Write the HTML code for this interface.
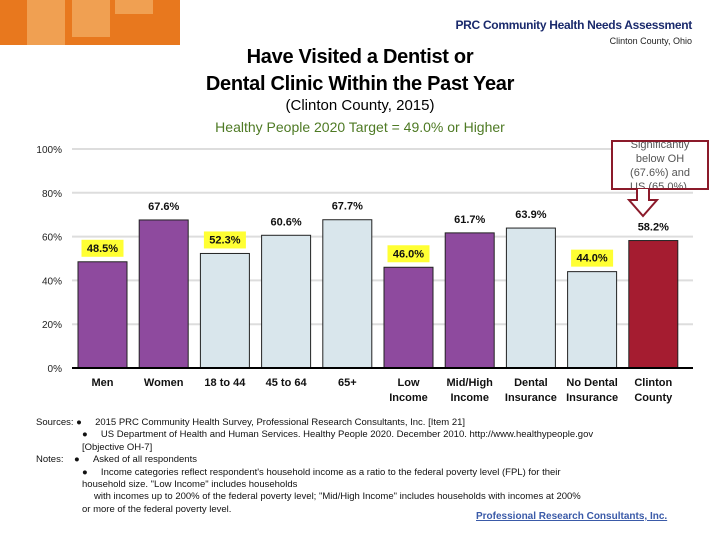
<!DOCTYPE html>
<html><head><meta charset="utf-8"><style>
body{margin:0;width:720px;height:540px;overflow:hidden;background:#fff;font-family:"Liberation Sans",sans-serif;position:relative}
.a{position:absolute}
</style></head><body>
<div class="a" style="left:0;top:0;width:180px;height:45px;background:#e8781e">
 <div class="a" style="left:27px;top:0;width:38px;height:45px;background:#f0a052"></div>
 <div class="a" style="left:72px;top:0;width:38px;height:37px;background:#f0a052"></div>
 <div class="a" style="left:115px;top:0;width:38px;height:14px;background:#f0a052"></div>
</div>
<div class="a" style="right:28px;top:18px;font-size:12px;font-weight:bold;color:#1a2a6c;letter-spacing:-0.3px">PRC Community Health Needs Assessment</div>
<div class="a" style="right:28px;top:36px;font-size:9px;color:#222">Clinton County, Ohio</div>
<div class="a" style="left:160px;width:400px;top:44px;text-align:center;font-size:20px;font-weight:bold;line-height:27px;color:#000;letter-spacing:-0.3px">Have Visited a Dentist or<br>Dental Clinic Within the Past Year</div>
<div class="a" style="left:160px;width:400px;top:97px;text-align:center;font-size:15px;color:#000">(Clinton County, 2015)</div>
<div class="a" style="left:160px;width:400px;top:119px;text-align:center;font-size:14px;color:#4e7a24">Healthy People 2020 Target = 49.0% or Higher</div>
<svg class="a" style="left:0;top:0" width="720" height="540" id="chart"></svg>
<div class="a" style="left:611px;top:140px;width:94px;height:46px;border:2px solid #8b1a2a;background:#fff;font-size:11px;line-height:14px;color:#555;text-align:center;overflow:hidden"><div style="margin-top:-4px">Significantly<br>below OH<br>(67.6%) and<br>US (65.0%).</div></div>
<svg class="a" style="left:625px;top:188px" width="40" height="60"><polygon points="12,0 24,0 24,12 32,12 18,28 4,12 12,12" fill="#fff" stroke="#8b1a2a" stroke-width="2"/></svg>
<div class="a" style="left:36px;top:417px;font-size:9.5px;line-height:12.4px;color:#111;width:660px">
<div>Sources: &#9679;&nbsp;&nbsp;&nbsp;&nbsp;&nbsp;2015 PRC Community Health Survey, Professional Research Consultants, Inc. [Item 21]</div>
<div style="padding-left:46px">&#9679;&nbsp;&nbsp;&nbsp;&nbsp;&nbsp;US Department of Health and Human Services. Healthy People 2020. December 2010. http://www.healthypeople.gov</div>
<div style="padding-left:46px">[Objective OH-7]</div>
<div>Notes: &nbsp;&nbsp;&nbsp;&#9679;&nbsp;&nbsp;&nbsp;&nbsp;&nbsp;Asked of all respondents</div>
<div style="padding-left:46px">&#9679;&nbsp;&nbsp;&nbsp;&nbsp;&nbsp;Income categories reflect respondent's household income as a ratio to the federal poverty level (FPL) for their</div>
<div style="padding-left:46px">household size. "Low Income" includes households</div>
<div style="padding-left:58px">with incomes up to 200% of the federal poverty level; "Mid/High Income" includes households with incomes at 200%</div>
<div style="padding-left:46px">or more of the federal poverty level.</div>
</div>
<div class="a" style="left:476px;top:511px;font-size:10px;font-weight:bold;color:#3a5aa8;text-decoration:underline">Professional Research Consultants, Inc.</div>
<script>
const categories=["Men","Women","18 to 44","45 to 64","65+","Low|Income","Mid/High|Income","Dental|Insurance","No Dental|Insurance","Clinton|County"];
const values=[48.5,67.6,52.3,60.6,67.7,46.0,61.7,63.9,44.0,58.2];
const highlight=[1,0,1,0,0,1,0,0,1,0];
const colors=["#8e4a9e","#8e4a9e","#d9e6ec","#d9e6ec","#d9e6ec","#8e4a9e","#8e4a9e","#d9e6ec","#d9e6ec","#a51c30"];
const ticks=[0,20,40,60,80,100];
const NS="http://www.w3.org/2000/svg",svg=document.getElementById('chart');
const y0=368,yTop=149,x0=72,x1=693,step=61.2,bw=49,bx=78;
const y=v=>y0-(v/100)*(y0-yTop);
function mk(t,a,p){const e=document.createElementNS(NS,t);for(const k in a)e.setAttribute(k,a[k]);(p||svg).appendChild(e);return e;}
ticks.forEach(t=>{
 if(t>0){const g=mk('line',{x1:x0,x2:x1,y1:y(t),y2:y(t),stroke:'#ddd','stroke-width':2});
 
 }
 const l=mk('text',{x:62,y:y(t)+4,'text-anchor':'end','font-size':10,fill:'#222'});l.textContent=t+'%';
 
 
});
values.forEach((v,i)=>{
 const x=bx+i*step;
 const r=mk('rect',{x:x,y:y(v),width:bw,height:y0-y(v),fill:colors[i],stroke:'#222','stroke-width':1});
 
 
 const ly=y(v)-10;
 if(highlight[i]){const h=mk('rect',{x:x+bw/2-21,y:ly-12,width:42,height:17,fill:'#ffff33'});
 
 }
 const t=mk('text',{x:x+bw/2,y:ly,'text-anchor':'middle','font-size':11,'font-weight':'bold',fill:'#111'});t.textContent=v.toFixed(1)+'%';
 
 
 categories[i].split('|').forEach((s,j)=>{const c=mk('text',{x:x+bw/2,y:386+j*15,'text-anchor':'middle','font-size':11,'font-weight':'bold',fill:'#111'});c.textContent=s;
 
 });
});
const ax=mk('line',{x1:x0,x2:x1,y1:y0,y2:y0,stroke:'#000','stroke-width':2});


</script>
</body></html>
